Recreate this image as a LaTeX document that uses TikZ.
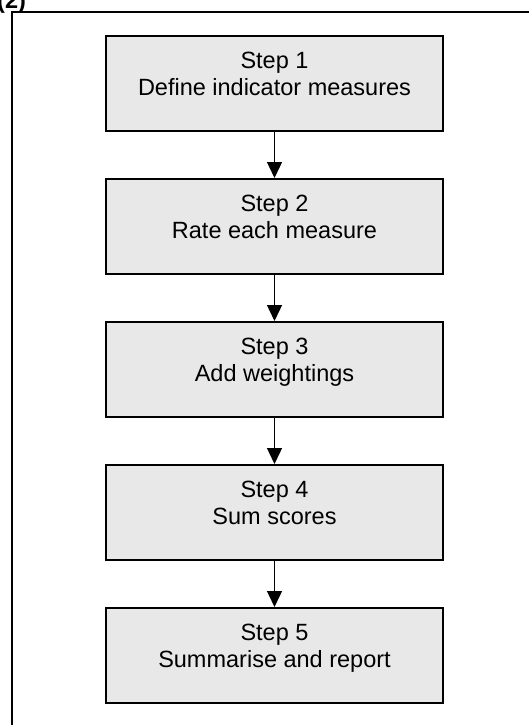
\documentclass[tikz,border=0pt]{standalone}
\usepackage{fontspec}
\setmainfont{Liberation Sans}
\usetikzlibrary{arrows.meta}
\definecolor{boxgray}{RGB}{232,232,232}
\tikzset{
  stepbox/.style={draw=black, line width=2pt, fill=boxgray, minimum width=337pt, minimum height=95pt, inner sep=0pt},
  steptext/.style={anchor=north, inner sep=0pt, align=center, font=\fontsize{23.5}{27}\selectfont},
  flow/.style={line width=1.4pt, -{Triangle[length=16pt,width=15pt]}},
  frame/.style={line width=2pt}
}
\begin{document}
\begin{tikzpicture}[x=1pt, y=-1pt]
\useasboundingbox (0,0) rectangle (529,725);
\draw[frame] (12,760) -- (12,12.5) -- (560,12.5);
\node[anchor=base west, inner sep=0pt, font=\fontsize{23.5}{27}\selectfont\bfseries] (lbl) at (-3,8.5) {(2)};
\node[stepbox] (s1) at (274.5,83.5) {};
\node[stepbox] (s2) at (274.5,226.5) {};
\node[stepbox] (s3) at (274.5,369.5) {};
\node[stepbox] (s4) at (274.5,512.5) {};
\node[stepbox] (s5) at (274.5,655.5) {};
\node[steptext] (t1) at (274.5,52) {Step 1\\Define indicator measures};
\node[steptext] (t2) at (274.5,195) {Step 2\\Rate each measure};
\node[steptext] (t3) at (274.5,338) {Step 3\\Add weightings};
\node[steptext] (t4) at (274.5,481) {Step 4\\Sum scores};
\node[steptext] (t5) at (274.5,624) {Step 5\\Summarise and report};
\draw[flow] (s1.south) -- (s2.north);
\draw[flow] (s2.south) -- (s3.north);
\draw[flow] (s3.south) -- (s4.north);
\draw[flow] (s4.south) -- (s5.north);
\end{tikzpicture}
\end{document}
